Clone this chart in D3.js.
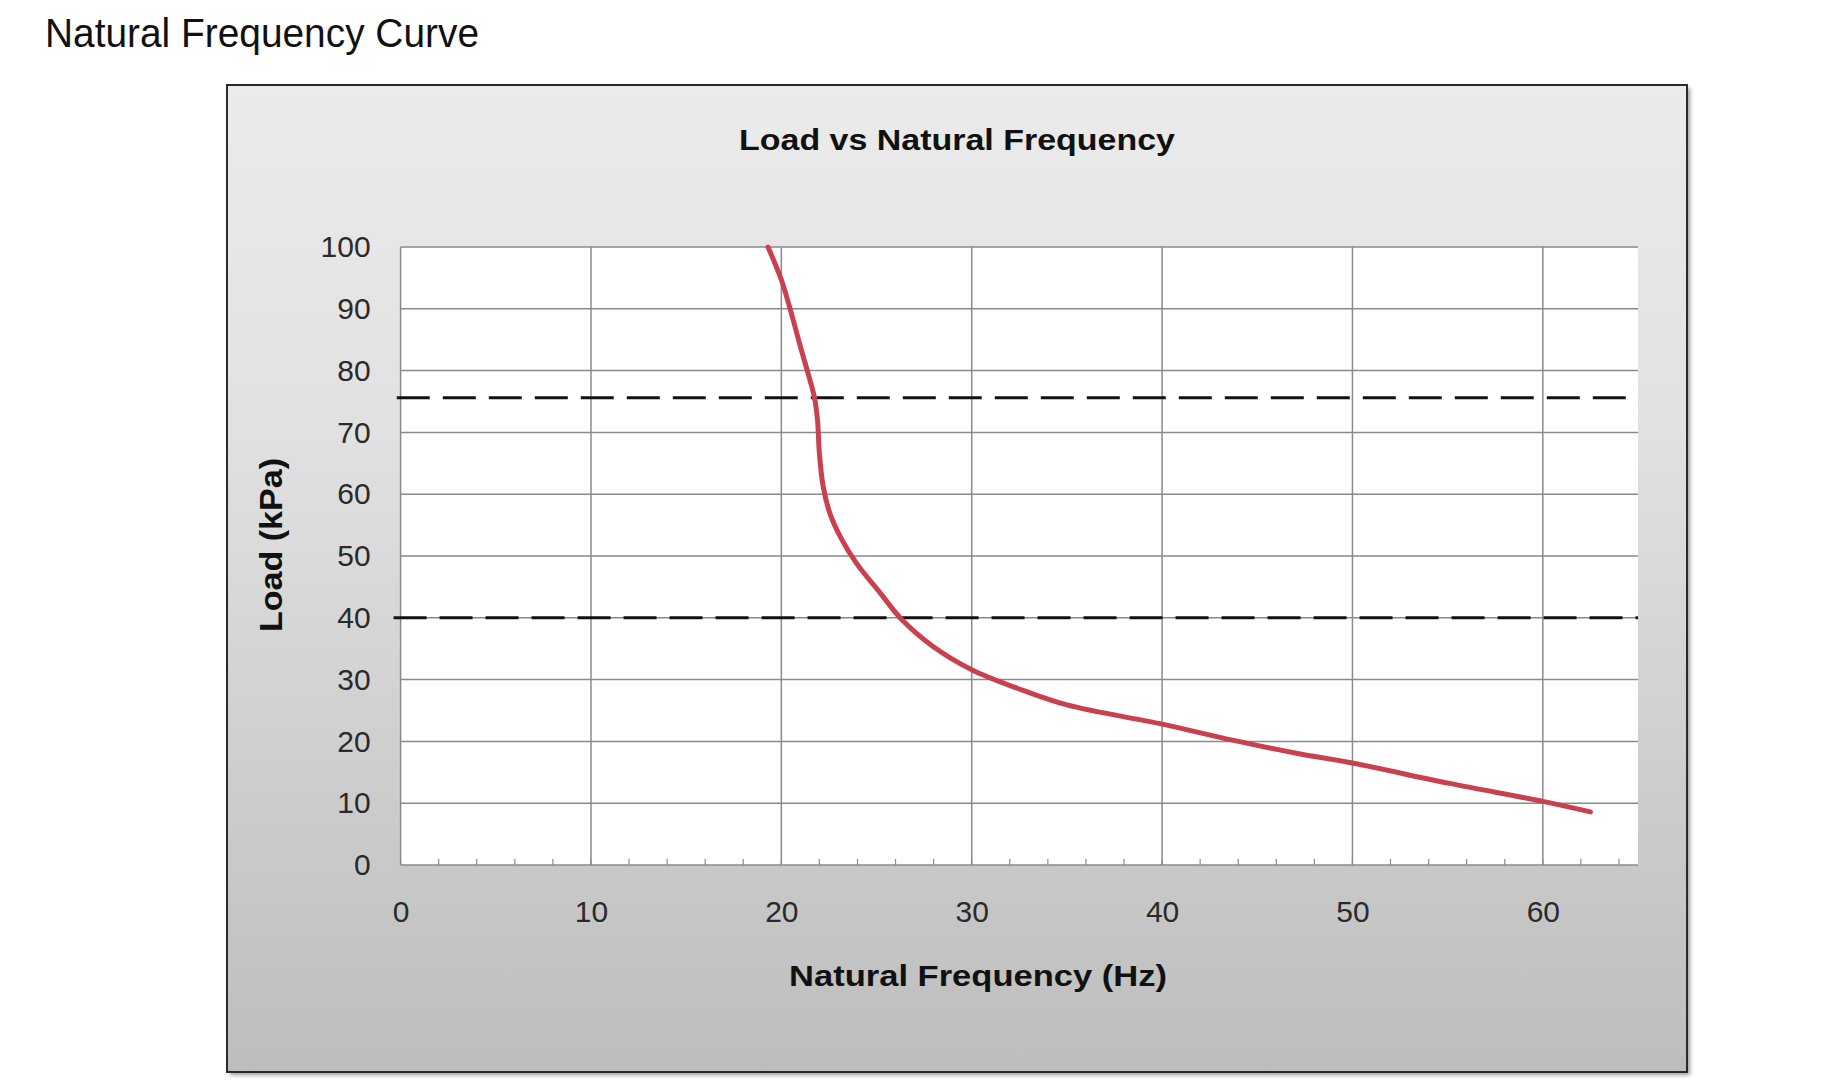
<!DOCTYPE html>
<html>
<head>
<meta charset="utf-8">
<script src="https://cdn.jsdelivr.net/npm/d3@7"></script>
<style>
  body { margin: 0; background: #fff; }
  text { font-family: "Liberation Sans", Arial, sans-serif; }
</style>
</head>
<body>
<div id="chart"></div>
<script>
// curve (Hz, kPa)
const frequency = [19.3, 20.0, 20.45, 21.0, 21.5, 21.75, 21.9, 22.0, 22.2, 22.55, 23.1, 23.95, 25.2, 26.3, 27.95, 30.0, 32.4, 35.0, 40.0, 43.7, 47.2, 50.0, 55.1, 60.0, 62.5];
const load = [100, 94.7, 90.1, 83.9, 78.5, 75.5, 72, 66.6, 61.2, 56.9, 53.1, 48.8, 44.0, 39.8, 35.4, 31.6, 28.6, 25.9, 22.8, 20.2, 18.0, 16.5, 13.2, 10.3, 8.6];

// dashed limit lines
const limitLoads = [75.6, 40];
const limitStart = [-0.2, -0.37];

const xTicks = [0, 10, 20, 30, 40, 50, 60];
const yTicks = [0, 10, 20, 30, 40, 50, 60, 70, 80, 90, 100];
const xMinorTicks = d3.range(0, 65, 2);

const pageTitle = `Natural Frequency Curve`;
const chartTitle = `Load vs Natural Frequency`;
const xLabel = `Natural Frequency (Hz)`;
const yLabel = `Load (kPa)`;

function drawChart(elementId) {
    let width = 1826, height = 1091;
    let frame = { left: 227, top: 85, right: 1687, bottom: 1072 };
    let plot = { left: 400.6, top: 247, right: 1638, bottom: 865 };

    let svg = d3.select(`#${elementId}`).append(`svg`)
        .attr(`width`, width)
        .attr(`height`, height);

    let defs = svg.append(`defs`);
    let grad = defs.append(`linearGradient`)
        .attr(`id`, `bg`)
        .attr(`x1`, 0).attr(`y1`, 0).attr(`x2`, 0).attr(`y2`, 1);
    grad.append(`stop`).attr(`offset`, `0%`).attr(`stop-color`, `#ebebeb`);
    grad.append(`stop`).attr(`offset`, `35%`).attr(`stop-color`, `#e1e1e1`);
    grad.append(`stop`).attr(`offset`, `100%`).attr(`stop-color`, `#bdbdbd`);
    defs.append(`filter`).attr(`id`, `shadow`)
        .append(`feGaussianBlur`).attr(`stdDeviation`, 2);

    // page heading
    svg.append(`text`)
        .attr(`x`, 45)
        .attr(`y`, 47)
        .attr(`font-family`, `"Liberation Sans Narrow", "Liberation Sans", sans-serif`)
        .attr(`font-size`, 41)
        .attr(`fill`, `#111`)
        .attr(`textLength`, 434)
        .attr(`lengthAdjust`, `spacingAndGlyphs`)
        .text(pageTitle);

    // chart frame
    svg.append(`rect`)
        .attr(`x`, frame.left + 3).attr(`y`, frame.top + 3)
        .attr(`width`, frame.right - frame.left).attr(`height`, frame.bottom - frame.top)
        .attr(`fill`, `#999`)
        .attr(`filter`, `url(#shadow)`);
    svg.append(`rect`)
        .attr(`x`, frame.left).attr(`y`, frame.top)
        .attr(`width`, frame.right - frame.left).attr(`height`, frame.bottom - frame.top)
        .attr(`fill`, `url(#bg)`)
        .attr(`stroke`, `#2a2a2a`)
        .attr(`stroke-width`, 2);

    let x = d3.scaleLinear().domain([0, 65]).range([plot.left, plot.right]);
    let y = d3.scaleLinear().domain([0, 100]).range([plot.bottom, plot.top]);

    svg.append(`rect`)
        .attr(`x`, plot.left).attr(`y`, plot.top)
        .attr(`width`, plot.right - plot.left).attr(`height`, plot.bottom - plot.top)
        .attr(`fill`, `#fff`);

    // grid
    svg.append(`g`).selectAll(`line`)
        .data(yTicks)
        .enter().append(`line`)
        .attr(`x1`, plot.left).attr(`x2`, plot.right)
        .attr(`y1`, d => y(d)).attr(`y2`, d => y(d))
        .attr(`stroke`, `#8a8a8a`)
        .attr(`stroke-width`, 1.5);
    svg.append(`g`).selectAll(`line`)
        .data(xTicks)
        .enter().append(`line`)
        .attr(`x1`, d => x(d)).attr(`x2`, d => x(d))
        .attr(`y1`, plot.top).attr(`y2`, plot.bottom)
        .attr(`stroke`, `#8a8a8a`)
        .attr(`stroke-width`, 1.5);

    // minor ticks on the x axis
    svg.append(`g`).selectAll(`line`)
        .data(xMinorTicks)
        .enter().append(`line`)
        .attr(`x1`, d => x(d)).attr(`x2`, d => x(d))
        .attr(`y1`, plot.bottom).attr(`y2`, plot.bottom - 6)
        .attr(`stroke`, `#8a8a8a`)
        .attr(`stroke-width`, 1.2);

    // axes
    let xAxis = svg.append(`g`)
        .attr(`transform`, `translate(0,${plot.bottom})`)
        .call(d3.axisBottom(x).tickValues(xTicks).tickSize(0).tickPadding(36));
    let yAxis = svg.append(`g`)
        .attr(`transform`, `translate(${plot.left},0)`)
        .call(d3.axisLeft(y).tickValues(yTicks).tickSize(0).tickPadding(30));
    [xAxis, yAxis].forEach(a => {
        a.select(`.domain`).remove();
        a.selectAll(`text`)
            .attr(`font-family`, `"Liberation Sans", sans-serif`)
            .attr(`font-size`, 30)
            .attr(`fill`, `#2a2a2a`);
    });

    // dashed limits
    svg.append(`g`).selectAll(`line`)
        .data(limitLoads)
        .enter().append(`line`)
        .attr(`x1`, (d, i) => x(limitStart[i])).attr(`x2`, plot.right)
        .attr(`y1`, d => y(d)).attr(`y2`, d => y(d))
        .attr(`stroke`, `#111`)
        .attr(`stroke-width`, 3)
        .attr(`stroke-dasharray`, `33,13`);

    // curve
    let points = frequency.map((f, i) => [f, load[i]]);
    svg.append(`path`)
        .datum(points)
        .attr(`fill`, `none`)
        .attr(`stroke`, `#c9404e`)
        .attr(`stroke-width`, 5)
        .attr(`stroke-linecap`, `round`)
        .attr(`stroke-linejoin`, `round`)
        .attr(`d`, d3.line().x(d => x(d[0])).y(d => y(d[1])).curve(d3.curveCatmullRom.alpha(0.5)));

    // titles
    svg.append(`text`)
        .attr(`x`, 957).attr(`y`, 150)
        .attr(`text-anchor`, `middle`)
        .attr(`font-size`, 30).attr(`font-weight`, `bold`)
        .attr(`fill`, `#111`)
        .attr(`textLength`, 436).attr(`lengthAdjust`, `spacingAndGlyphs`)
        .text(chartTitle);
    svg.append(`text`)
        .attr(`x`, 978).attr(`y`, 986)
        .attr(`text-anchor`, `middle`)
        .attr(`font-size`, 30).attr(`font-weight`, `bold`)
        .attr(`fill`, `#111`)
        .attr(`textLength`, 378).attr(`lengthAdjust`, `spacingAndGlyphs`)
        .text(xLabel);
    svg.append(`text`)
        .attr(`transform`, `translate(282,545) rotate(-90)`)
        .attr(`text-anchor`, `middle`)
        .attr(`font-size`, 31).attr(`font-weight`, `bold`)
        .attr(`fill`, `#111`)
        .attr(`textLength`, 174).attr(`lengthAdjust`, `spacingAndGlyphs`)
        .text(yLabel);
}

drawChart(`chart`);
</script>
</body>
</html>
